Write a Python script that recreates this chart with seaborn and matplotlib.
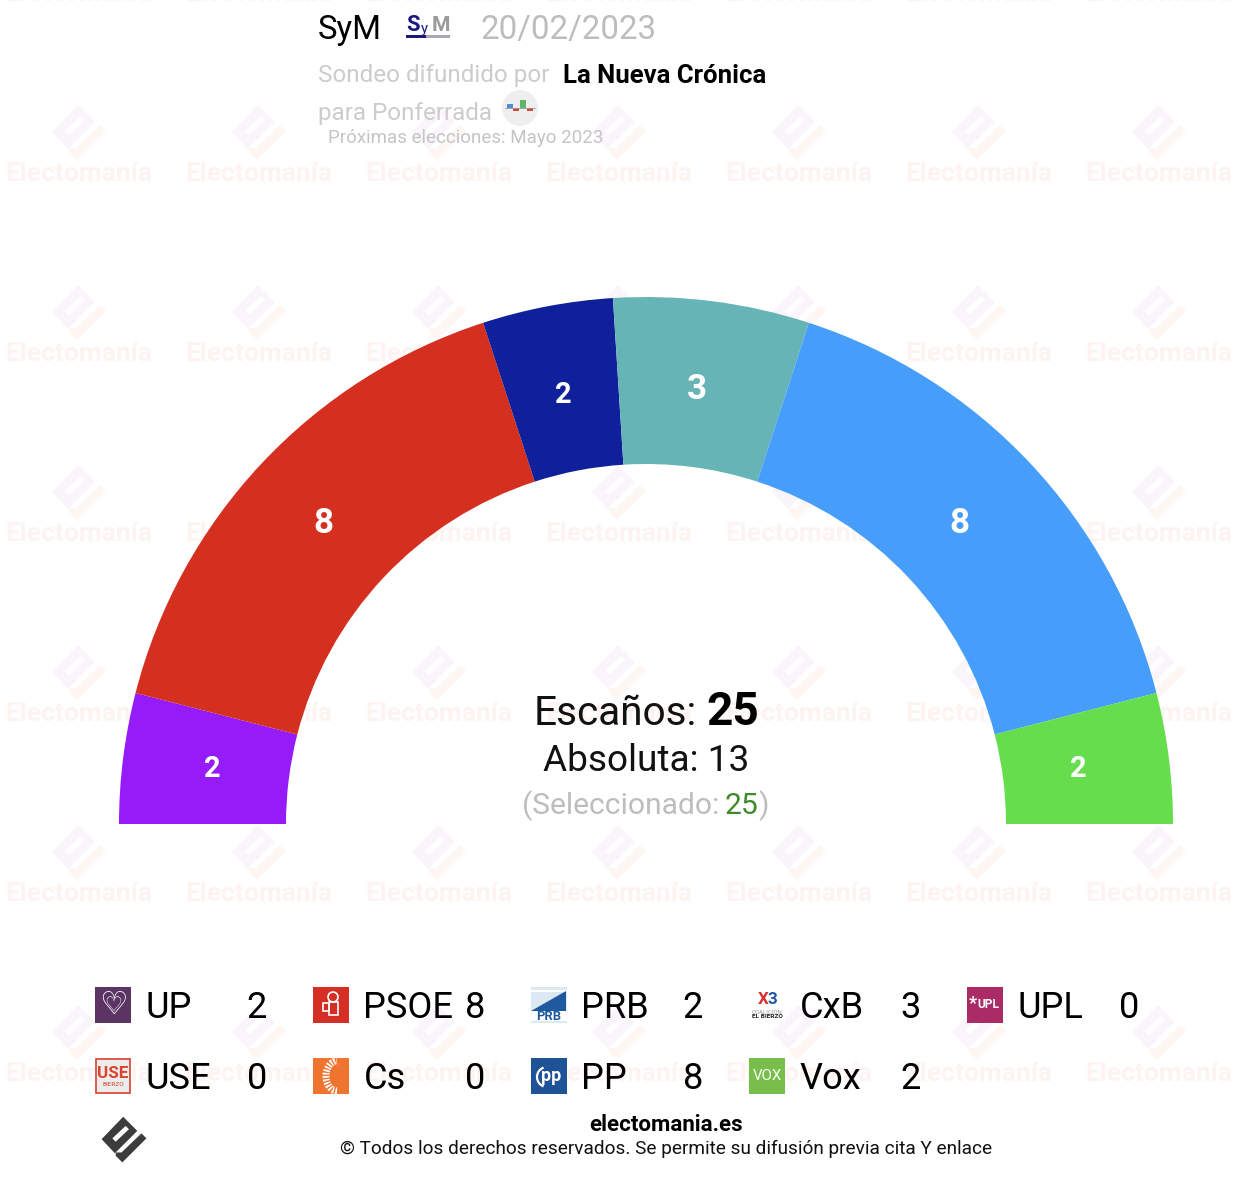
import matplotlib
matplotlib.use('Agg')
import matplotlib.pyplot as plt
import seaborn as sns
from matplotlib.patches import Circle, Polygon, Rectangle, Arc

# Datos
partidos = ['UP', 'PSOE', 'PRB', 'CxB', 'UPL', 'USE', 'Cs', 'PP', 'Vox']
escanos = [2, 8, 2, 3, 0, 0, 0, 8, 2]
colores = ['#951bf8', '#d52f1f', '#101f9a', '#67b4b7', '#a92b66', '#d9432f', '#ef7430', '#469efa', '#66dd4d']
total = 25
absoluta = 13
seleccionado = 25

sns.set_theme(style='white')
plt.rcParams['font.family'] = ['Roboto', 'DejaVu Sans']


def px(n):
    return n * 0.72


fig = plt.figure(figsize=(12.46, 11.82), dpi=100, facecolor='white')
ax = fig.add_axes([0, 0, 1, 1])


def logo(cx, cy, k, c1, c2, fondo='white', z=0.5):
    dia = [(-1, -28), (16, -11), (-11, 16), (-27, -1)]
    slot = [(-14, -2), (2, -17), (6, -13), (-10, 2)]
    che = [(21, -8), (27, -2), (-2, 27), (-10, 19), (-10, 15), (-3, 15)]
    ax.add_patch(Polygon([(cx + k * a, cy + k * b) for a, b in dia], fc=c1, ec='none', zorder=z))
    ax.add_patch(Polygon([(cx + k * a, cy + k * b) for a, b in slot], fc=fondo, ec='none', zorder=z))
    ax.add_patch(Polygon([(cx + k * a, cy + k * b) for a, b in che], fc=c2, ec='none', zorder=z))


# Marca de agua
for i in range(7):
    for j in range(-1, 6):
        x = 79 + 180 * i
        y = 133 + 180 * j
        logo(x, y, 1, '#f9f5fb', '#fdf6f3')
        ax.text(x, y + 41, 'Electomanía', fontsize=px(26.4), fontweight='bold', color='#fdf4f1',
                ha='center', va='center', zorder=0.5)

# Hemiciclo
valores = [e for e in escanos if e > 0]
cols = [c for e, c in zip(escanos, colores) if e > 0]
paleta = sns.color_palette(cols)
wedges, textos = ax.pie(valores + [total], colors=paleta + ['white'], labels=[str(v) for v in valores] + [''],
                        labeldistance=0.84, startangle=180, counterclock=True, center=(646, 824), radius=527,
                        wedgeprops={'width': 167, 'linewidth': 0}, frame=True)
wedges[-1].set_visible(False)
ajustes = [(6, 0), (0, 3), (0, 6), (-5, 5), (-9, 3), (-7, 0), (0, 0)]
for t, v, (dx, dy) in zip(textos, valores + [0], ajustes):
    t.set_color('white')
    t.set_fontweight('bold')
    t.set_fontsize(px(35) if v > 2 else px(29))
    t.set_ha('center')
    t.set_va('center')
    tx, ty = t.get_position()
    t.set_position((tx + dx, ty + dy))

ax.set_aspect('equal')
ax.set_xlim(0, 1246)
ax.set_ylim(1182, 0)
ax.axis('off')

# Cabecera
ax.text(318, 39, 'SyM', fontsize=px(33), color='black', va='baseline')
ax.text(481, 39, '20/02/2023', fontsize=px(33), color='#bdbdbd', va='baseline')
ax.text(318, 82, 'Sondeo difundido por', fontsize=px(24.2), color='#cccccc', va='baseline')
ax.text(563, 83, 'La Nueva Crónica', fontsize=px(25.8), color='black', fontweight='bold', va='baseline')
ax.text(318, 120, 'para Ponferrada', fontsize=px(24.2), color='#cccccc', va='baseline')
ax.text(328, 143, 'Próximas elecciones: Mayo 2023', fontsize=px(18.8), color='#c4c4c4', va='baseline')

# Logo SyM
ax.text(406, 31, 'S', fontsize=px(22), color='#1a1a7e', fontweight='bold', va='baseline')
ax.text(421, 33, 'y', fontsize=px(15), color='#1a1a7e', va='baseline')
ax.text(432, 31, 'M', fontsize=px(21), color='#9a9a9a', fontweight='bold', va='baseline')
ax.add_patch(Rectangle((406, 35), 20, 3, fc='#1a1a7e', ec='none'))
ax.add_patch(Rectangle((426, 35), 24, 3, fc='#a8a8b8', ec='none'))

# Icono sondeo
ax.add_patch(Circle((520, 108), 18, fc='#eeeeee', ec='none'))
for bx, by, bw, bh, bc in [(507, 104, 6, 4, '#4d8fd0'), (513, 108, 6, 3, '#d04a3a'),
                           (520, 100, 6, 8, '#5fb56c'), (527, 108, 6, 3, '#d04a3a')]:
    ax.add_patch(Rectangle((bx, by), bw, bh, fc=bc, ec='none', zorder=3))
ax.plot([505, 535], [108, 108], color='#999999', lw=0.6, zorder=3)

# Centro
ax.text(534, 725, 'Escaños:', fontsize=px(40.5), color='#111111', va='baseline')
ax.text(706, 725, str(total), fontsize=px(46), color='black', fontweight='bold', va='baseline')
ax.text(646, 771, f'Absoluta: {absoluta}', fontsize=px(37), color='#111111', ha='center', va='baseline')
ax.text(522, 814, '(Seleccionado:', fontsize=px(30), color='#bdbdbd', va='baseline')
ax.text(725, 814, str(seleccionado), fontsize=px(30), color='#3f8a2a', va='baseline')
ax.text(758, 814, ')', fontsize=px(30), color='#bdbdbd', va='baseline')

# Leyenda
col_x = [95, 313, 531, 749, 967]
fil_y = [987, 1058]
iconos = {'UP': '#5b3464', 'PSOE': '#d52f25', 'PRB': '#dce8f2', 'CxB': 'white', 'UPL': '#aa2b66',
          'USE': '#ececec', 'Cs': '#ef7430', 'PP': '#1f5397', 'Vox': '#77bf4a'}
for n, (p, e) in enumerate(zip(partidos, escanos)):
    x = col_x[n % 5]
    y = fil_y[n // 5]
    ax.add_patch(Rectangle((x, y), 36, 36, fc=iconos[p], ec='none', zorder=3))
    cx, cy = x + 18, y + 18
    if p == 'UP':
        ax.text(cx, cy, '♡', fontsize=px(32), color='white', ha='center', va='center', zorder=4,
                family='DejaVu Sans')
        ax.text(cx, cy, '♡', fontsize=px(20), color='white', ha='center', va='center', zorder=4,
                family='DejaVu Sans')
    elif p == 'PSOE':
        ax.add_patch(Circle((cx + 2, cy - 8), 5, fc='none', ec='white', lw=1.2, zorder=4))
        ax.add_patch(Rectangle((cx - 8, cy - 2), 6, 8, fc='none', ec='white', lw=1.2, zorder=4))
        ax.add_patch(Rectangle((cx - 2, cy - 3), 9, 13, fc='none', ec='white', lw=1.2, zorder=4))
    elif p == 'PRB':
        ax.add_patch(Rectangle((x, y + 3), 36, 2, fc='white', ec='none', zorder=4))
        ax.add_patch(Polygon([(x, y + 24), (x + 35, y + 4), (x + 35, y + 24)], fc='#1f5a9e', ec='none', zorder=4))
        ax.add_patch(Rectangle((x, y + 24), 36, 10, fc='white', ec='none', zorder=4))
        ax.text(cx, y + 29.5, 'PRB', fontsize=px(13), color='#1f5a9e', fontweight='bold', ha='center', va='center', zorder=5)
    elif p == 'CxB':
        ax.text(cx - 4, y + 12, 'X', fontsize=px(17), color='#d8302a', fontweight='bold', ha='center', va='center', zorder=4)
        ax.text(cx + 5, y + 12, '3', fontsize=px(17), color='#2456a6', fontweight='bold', ha='center', va='center', zorder=4)
        ax.text(cx, y + 25, 'COALICIÓN', fontsize=px(6), color='#999999', ha='center', va='center', zorder=4)
        ax.text(cx, y + 30, 'EL BIERZO', fontsize=px(6.5), color='#222222', fontweight='bold', ha='center', va='center', zorder=4)
    elif p == 'UPL':
        ax.text(cx + 3, cy, 'UPL', fontsize=px(12), color='white', fontweight='bold', ha='center', va='center', zorder=4)
        ax.text(x + 6, cy - 1, '*', fontsize=px(18), color='white', fontweight='bold', ha='center', va='center', zorder=4)
    elif p == 'USE':
        ax.add_patch(Rectangle((x + 1, y + 1), 34, 34, fc='none', ec='#d9432f', lw=1.2, zorder=4))
        ax.text(cx, y + 15, 'USE', fontsize=px(17), color='#d9432f', fontweight='bold', ha='center', va='center', zorder=4)
        ax.text(cx, y + 27, 'BIERZO', fontsize=px(6.5), color='#d9432f', ha='center', va='center', zorder=4)
    elif p == 'Cs':
        ax.add_patch(Arc((cx + 6, cy), 22, 30, theta1=90, theta2=270, color='white', lw=5,
                         linestyle=(0, (0.25, 0.2)), zorder=4))
    elif p == 'PP':
        ax.add_patch(Arc((cx - 2, cy + 1), 20, 20, theta1=110, theta2=250, color='white', lw=1.6, zorder=4))
        ax.text(cx + 2, cy, 'pp', fontsize=px(18), color='white', fontweight='bold', ha='center', va='center', zorder=4)
    elif p == 'Vox':
        ax.text(cx, cy, 'VOX', fontsize=px(15), color='white', ha='center', va='center', zorder=4)

    base = y + 31
    ax.text(x + 50.5, base, p, fontsize=px(36.3), color='black', va='baseline', zorder=4)
    ax.text(x + 162, base, str(e), fontsize=px(36.3), color='black', ha='center', va='baseline', zorder=4)

# Pie
logo(124, 1140, 0.83, '#3c3c3c', '#3c3c3c', z=3)
ax.text(666, 1131, 'electomania.es', fontsize=px(22.3), color='black', fontweight='bold', ha='center', va='baseline')
ax.text(666, 1154, '© Todos los derechos reservados. Se permite su difusión previa cita Y enlace',
        fontsize=px(19), color='#111111', ha='center', va='baseline')

fig.savefig('out.png', dpi=100)
